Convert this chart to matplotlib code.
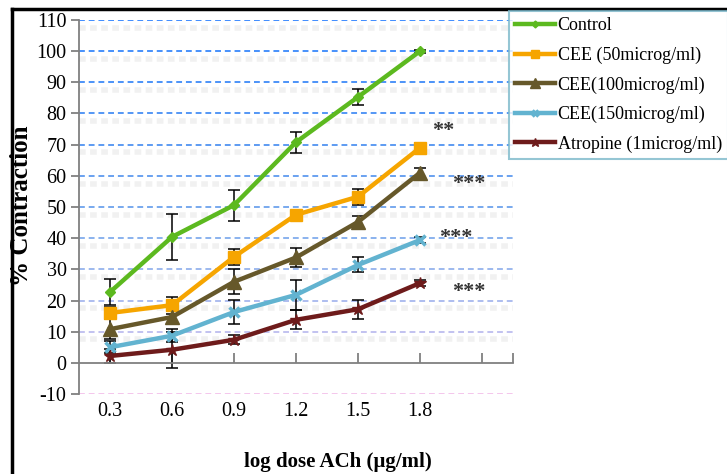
import matplotlib
matplotlib.use("Agg")
import matplotlib.pyplot as plt
from matplotlib.lines import Line2D

plt.rcParams["font.family"] = ["Liberation Serif", "DejaVu Serif"]
plt.rcParams["axes.unicode_minus"] = False

# data
dose_labels = ["0.3", "0.6", "0.9", "1.2", "1.5", "1.8"]
series_names = [
    "Control",
    "CEE (50microg/ml)",
    "CEE(100microg/ml)",
    "CEE(150microg/ml)",
    "Atropine (1microg/ml)",
]
control = [22.7, 40.4, 50.6, 70.8, 85.3, 100.0]
control_err = [4.3, 7.5, 5.0, 3.4, 2.7, 0.5]
cee50 = [16.0, 18.5, 34.0, 47.5, 53.3, 69.0]
cee50_err = [2.0, 2.7, 2.5, 1.2, 2.5, 1.5]
cee100 = [10.8, 14.7, 26.0, 33.8, 45.2, 61.0]
cee100_err = [3.2, 2.0, 4.0, 3.0, 1.8, 1.5]
cee150 = [5.0, 8.7, 16.3, 21.8, 31.4, 39.4]
cee150_err = [2.0, 2.0, 4.0, 4.8, 2.4, 1.0]
atropine = [2.2, 4.2, 7.4, 13.8, 17.2, 25.6]
atropine_err = [2.2, 5.8, 1.5, 3.0, 3.0, 1.0]

# significance marks: (label, category position, value)
sig_marks = [("**", 6.2, 74.5), ("***", 6.52, 57.5), ("***", 6.3, 40.0), ("***", 6.52, 22.8)]

values = [control, cee50, cee100, cee150, atropine]
errors = [control_err, cee50_err, cee100_err, cee150_err, atropine_err]
colors = ["#5cb91f", "#f6a500", "#66582a", "#62b3d0", "#6e1b1b"]
markers = ["D", "s", "^", "x", "*"]
msizes = [5, 8, 10, 7, 9]

grid_vals = [110, 100, 90, 80, 70, 60, 50, 40, 30, 20, 10, -10]
grid_cols = ["#3f8cff", "#4690fb", "#4c93f8", "#5497f5", "#5d9bf2", "#69a1f0",
             "#78a9ee", "#8ab2ee", "#9db9ee", "#adbdef", "#c2c2f0", "#f4c6ec"]

fig = plt.figure(figsize=(7.27, 4.74), dpi=100)
ax = fig.add_axes([79 / 727, 1 - 394 / 474, (513 - 79) / 727, (394 - 20) / 474])

x = list(range(1, len(dose_labels) + 1))

for v, c in zip(grid_vals, grid_cols):
    ax.axhline(v - 2.5, color="#f1f1f1", lw=4, ls=(0, (1.2, 0.8)), zorder=0.4)
    ax.axhline(v, color=c, lw=1.4, ls=(0, (3, 2)), zorder=0.5)

for name, y, e, c, m, s in zip(series_names, values, errors, colors, markers, msizes):
    ax.errorbar(x, y, yerr=e, fmt="none", ecolor="black", elinewidth=1.1,
                capsize=4, capthick=1.1, zorder=2)
    ax.plot(x, y, color=c, lw=3.2, marker=m, markersize=s, mec=c, mew=2.5 if m == "x" else 1,
            label=name, zorder=3)

for t, px, py in sig_marks:
    ax.text(px, py, t, fontsize=16, fontweight="bold", color="#333333",
            ha="left", va="center")

ax.set_xlim(0.5, 7.5)
ax.set_ylim(-10, 110)
ax.set_yticks(range(-10, 111, 10))
ax.set_xticks(x + [7, 7.5])
ax.set_xticklabels(dose_labels + ["", ""])

for side in ["top", "right"]:
    ax.spines[side].set_visible(False)
ax.spines["bottom"].set_position(("data", 0))
for side in ["left", "bottom"]:
    ax.spines[side].set_color("#808080")
    ax.spines[side].set_linewidth(1.3)

ax.tick_params(axis="y", direction="out", length=6, color="#808080", width=1.3,
               labelsize=14.5, pad=3)
ax.tick_params(axis="x", direction="in", length=7, color="#808080", width=1.3,
               labelsize=14.5, pad=28)

leg = fig.legend(loc="upper left", bbox_to_anchor=(509 / 727, 1 - 11 / 474),
                 fontsize=13, frameon=True, fancybox=False, handlelength=2.2,
                 handletextpad=0.15, labelspacing=0.68, borderpad=0.35,
                 borderaxespad=0, markerscale=0.7)
leg.get_frame().set_edgecolor("#7bb8ca")
leg.get_frame().set_linewidth(1.5)

fig.text(22 / 727, 1 - 206 / 474, "% Contraction", rotation=90, fontsize=18,
         fontweight="bold", ha="center", va="center")
fig.text(338 / 727, 1 - 462 / 474, "log dose ACh (\u00b5g/ml)", fontsize=15,
         fontweight="bold", ha="center", va="center")

# outer frame
fig.add_artist(Line2D([12 / 727, 12 / 727], [0, 1 - 9 / 474], color="black", lw=2.5))
fig.add_artist(Line2D([12 / 727, 1], [1 - 9 / 474, 1 - 9 / 474], color="black", lw=2.5))

fig.savefig("out.png", dpi=100)
